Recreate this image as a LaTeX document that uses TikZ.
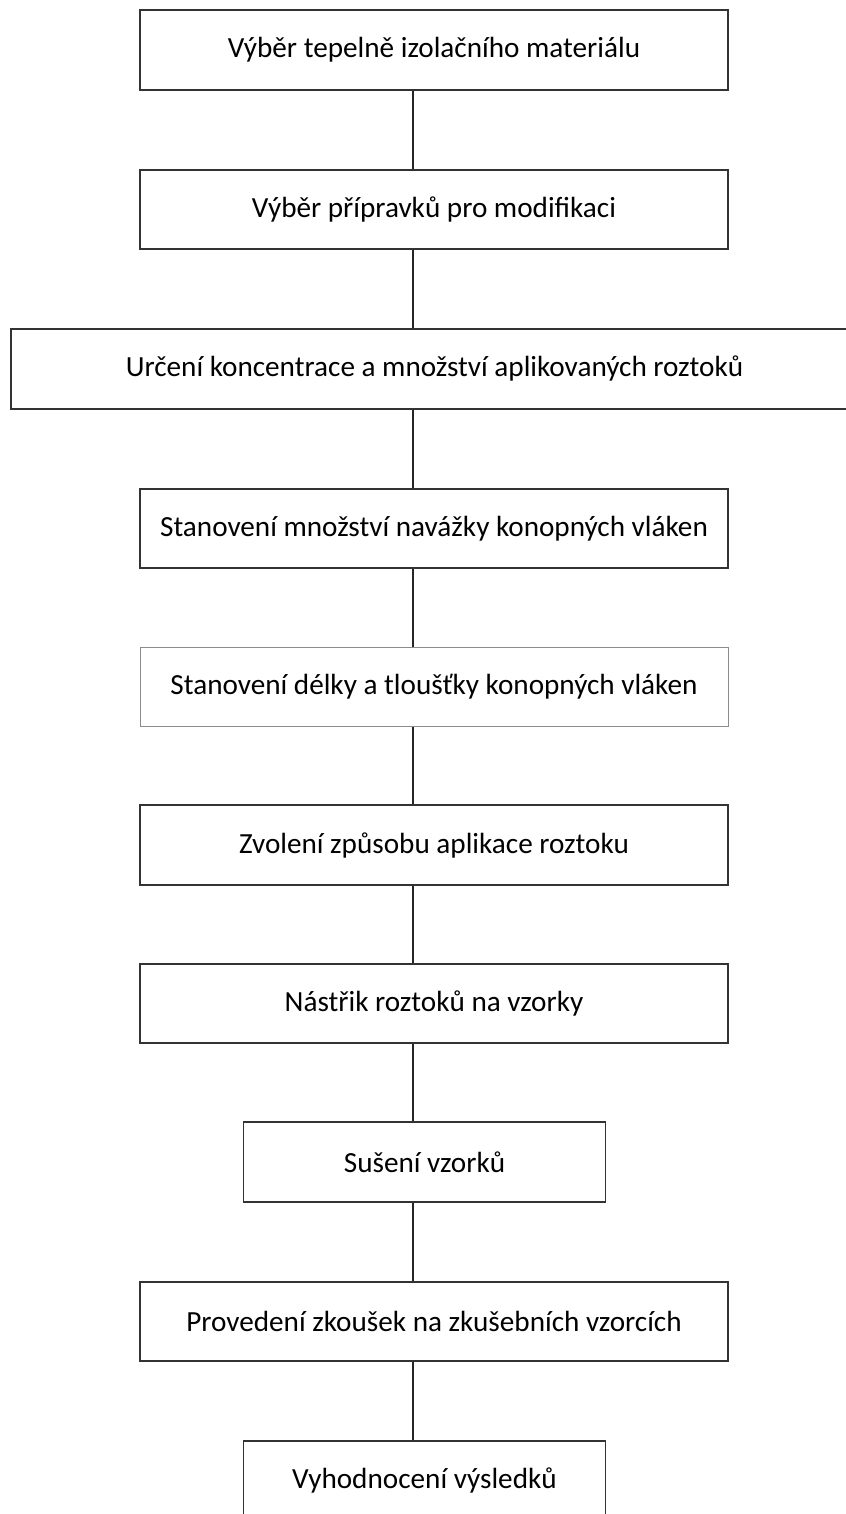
\documentclass[tikz,border=0pt]{standalone}
\usepackage{fontspec}
\setmainfont{Carlito}
\usetikzlibrary{positioning}

\begin{document}
\begin{tikzpicture}[x=0.75pt,y=-0.75pt,
                    thick,main node/.style={rectangle,draw=black!80,line width=1.4pt,minimum height=59.5pt,inner sep=0pt,font=\fontsize{21.9}{26}\selectfont},
                    wide node/.style={main node,minimum width=441pt},
                    short node/.style={main node,minimum width=271.5pt}]

  \path[use as bounding box,clip] (0,0) rectangle (846,1514);
  \coordinate (axis) at (413,0);

  \node[wide node] (1) at (434,50) {Výběr tepelně izolačního materiálu};
  \node[wide node] (2) at (434,209.5) {Výběr přípravků pro modifikaci};
  \node[main node,minimum width=635pt] (3) at (434.5,369) {Určení koncentrace a množství aplikovaných roztoků};
  \node[wide node] (4) at (434,528.5) {Stanovení množství navážky konopných vláken};
  \node[wide node,draw=black!45,line width=0.7pt] (5) at (434,687) {Stanovení délky a tloušťky konopných vláken};
  \node[wide node] (6) at (434,845) {Zvolení způsobu aplikace roztoku};
  \node[wide node] (7) at (434,1003.5) {Nástřik roztoků na vzorky};
  \node[short node] (8) at (424.5,1162) {Sušení vzorků};
  \node[wide node] (9) at (434,1321.5) {Provedení zkoušek na zkušebních vzorcích};
  \node[short node] (10) at (424.5,1480.5) {Vyhodnocení výsledků};

  \path[draw=black!85,line width=1.4pt]
    (1.south -| axis) edge (2.north -| axis)
    (2.south -| axis) edge (3.north -| axis)
    (3.south -| axis) edge (4.north -| axis)
    (4.south -| axis) edge (5.north -| axis)
    (5.south -| axis) edge (6.north -| axis)
    (6.south -| axis) edge (7.north -| axis)
    (7.south -| axis) edge (8.north -| axis)
    (8.south -| axis) edge (9.north -| axis)
    (9.south -| axis) edge (10.north -| axis);

\end{tikzpicture}
\end{document}
